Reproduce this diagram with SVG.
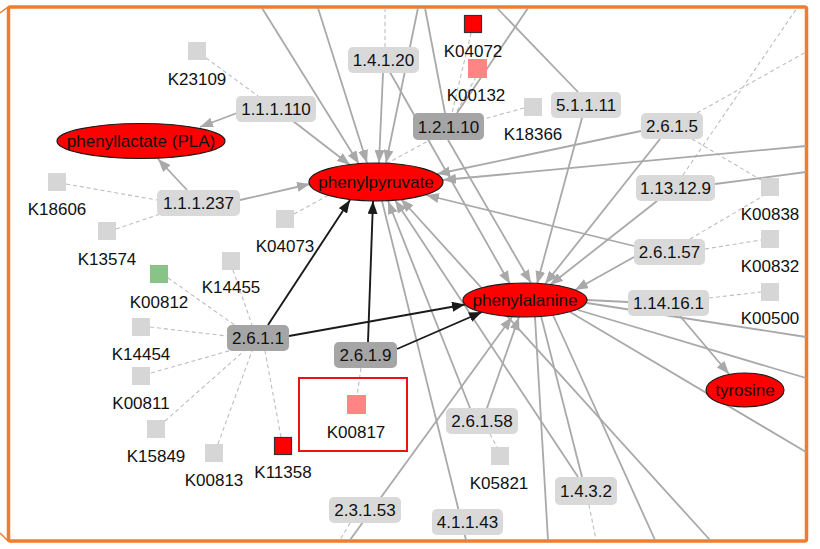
<svg xmlns="http://www.w3.org/2000/svg" width="820" height="549" viewBox="0 0 820 549">
<defs>
<style>
.e{stroke:#a9a9a9;stroke-width:1.8;fill:none}
.ea{stroke:#a9a9a9;stroke-width:1.8;fill:none;marker-end:url(#ag)}
.eb{stroke:#1a1a1a;stroke-width:1.9;fill:none;marker-end:url(#ab)}
.d{stroke:#bdbdbd;stroke-width:1.1;fill:none;stroke-dasharray:4 3}
.met{fill:#ff0000;stroke:#1a1a1a;stroke-width:1.2}
.enz{fill:#d9d9d9}
.enzd{fill:#a5a5a5}
.g{fill:#d6d6d6}
.t{font-family:"Liberation Sans",Arial,sans-serif;font-size:17px;fill:#111;text-anchor:middle}
</style>
<marker id="ag" markerUnits="userSpaceOnUse" markerWidth="13" markerHeight="10" refX="13" refY="5" orient="auto">
<path d="M0,0 L13,5 L0,10 z" fill="#a9a9a9"/>
</marker>
<marker id="ab" markerUnits="userSpaceOnUse" markerWidth="13" markerHeight="10" refX="13" refY="5" orient="auto">
<path d="M0,0 L13,5 L0,10 z" fill="#1a1a1a"/>
</marker>
</defs>
<rect x="0" y="0" width="820" height="549" fill="#ffffff"/>
<rect x="8.5" y="7" width="798" height="534" rx="2" fill="none" stroke="#ed7d31" stroke-width="3.5"/>
<path d="M0,13 L8,7 M0,533 L8,541" stroke="#ed7d31" stroke-width="1.5" fill="none"/>

<g id="edges">
<!-- dashed gene links -->
<path class="d" d="M206,58 L258,96"/>
<path class="d" d="M66,184 L157,200"/>
<path class="d" d="M116,229 L160,214"/>
<path class="d" d="M168,278 L236,326"/>
<path class="d" d="M233,270 L252,325"/>
<path class="d" d="M150,327 L227,336"/>
<path class="d" d="M151,373 L232,350"/>
<path class="d" d="M165,421 L244,351"/>
<path class="d" d="M218,444 L252,351"/>
<path class="d" d="M281,437 L265,351"/>
<path class="d" d="M294,214 L430,140"/>
<path class="d" d="M471,33 L452,113"/>
<path class="d" d="M476,77 L456,113"/>
<path class="d" d="M524,108 L484,119"/>
<path class="d" d="M385,47 L385,8"/>
<path class="d" d="M697,113 L806,52"/>
<path class="d" d="M683,175 L797,8"/>
<path class="d" d="M692,139 L761,180"/>
<path class="d" d="M690,239 L763,196"/>
<path class="d" d="M705,249 L761,240"/>
<path class="d" d="M709,298 L761,292"/>
<path class="d" d="M361,368 L357,396"/>
<path class="d" d="M490,434 L497,447"/>
<path class="d" d="M589,505 L596,540"/>
<path class="d" d="M350,523 L340,540"/>
<!-- plain gray edges -->
<path class="e" d="M425,8 L445,113"/>
<path class="e" d="M528,8 L457,113"/>
<path class="e" d="M497,8 L578,92"/>
<path class="e" d="M715,184 L806,172"/>
<path class="e" d="M535,317 L548,540"/>
<path class="e" d="M541,316 L582,477"/>
<path class="e" d="M553,315 L655,540"/>
<path class="e" d="M570,312 L806,452"/>
<path class="e" d="M578,310 L806,378"/>
<path class="e" d="M587,303 L806,337"/>
<path class="e" d="M587,300 L628,302"/>
<path class="e" d="M466,540 L382,201"/>
<!-- gray arrows -->
<path class="ea" d="M237,113 L200,127"/>
<path class="ea" d="M187,190 L158,159"/>
<path class="ea" d="M293,121 L350,165"/>
<path class="ea" d="M262,8 L359,164"/>
<path class="ea" d="M318,8 L367,163"/>
<path class="ea" d="M383,73 L379,163"/>
<path class="ea" d="M418,8 L386,163"/>
<path class="ea" d="M641,131 L437,174"/>
<path class="ea" d="M806,146 L443,180"/>
<path class="ea" d="M634,246 L426,195"/>
<path class="ea" d="M240,200 L310,184"/>
<path class="ea" d="M470,408 L388,201"/>
<path class="ea" d="M578,477 L395,200"/>
<path class="ea" d="M710,540 L401,199"/>
<path class="ea" d="M383,60 L510,284"/>
<path class="ea" d="M448,140 L531,283"/>
<path class="ea" d="M582,118 L537,284"/>
<path class="ea" d="M660,139 L545,284"/>
<path class="ea" d="M657,201 L550,285"/>
<path class="ea" d="M634,257 L575,290"/>
<path class="ea" d="M350,540 L512,317"/>
<path class="ea" d="M487,408 L519,317"/>
<path class="ea" d="M680,316 L729,374"/>
<!-- black arrows -->
<path class="eb" d="M268,325 L350,200"/>
<path class="eb" d="M289,336 L465,304.5"/>
<path class="eb" d="M368,342 L373,201"/>
<path class="eb" d="M397,349 L482,312"/>
</g>

<!-- metabolites -->
<g id="phenyllactate"><ellipse class="met" cx="141" cy="141" rx="84" ry="17.5"/><text class="t" x="141" y="147">phenyllactate (PLA)</text></g>
<g id="phenylpyruvate"><ellipse class="met" cx="376" cy="182" rx="67" ry="19"/><text class="t" x="376" y="188">phenylpyruvate</text></g>
<g id="phenylalanine"><ellipse class="met" cx="525" cy="300" rx="62" ry="17"/><text class="t" x="525" y="306">phenylalanine</text></g>
<g id="tyrosine"><ellipse class="met" cx="745" cy="390" rx="39" ry="17"/><text class="t" x="745" y="396">tyrosine</text></g>

<!-- enzymes -->
<g id="e1.1.1.110"><rect class="enz" x="236" y="96" width="80" height="26" rx="5"/><text class="t" x="276" y="115">1.1.1.110</text></g>
<g id="e1.4.1.20"><rect class="enz" x="348" y="47" width="71" height="26" rx="5"/><text class="t" x="383.5" y="66">1.4.1.20</text></g>
<g id="e1.2.1.10"><rect class="enzd" x="413" y="113" width="71" height="27" rx="5"/><text class="t" x="448.5" y="132.5">1.2.1.10</text></g>
<g id="e5.1.1.11"><rect class="enz" x="551" y="92" width="70" height="26" rx="5"/><text class="t" x="586" y="111">5.1.1.11</text></g>
<g id="e2.6.1.5"><rect class="enz" x="641" y="113" width="62" height="26" rx="5"/><text class="t" x="672" y="132">2.6.1.5</text></g>
<g id="e1.13.12.9"><rect class="enz" x="636" y="175" width="79" height="26" rx="5"/><text class="t" x="675.5" y="194">1.13.12.9</text></g>
<g id="e2.6.1.57"><rect class="enz" x="634" y="239" width="71" height="26" rx="5"/><text class="t" x="669.5" y="258">2.6.1.57</text></g>
<g id="e1.14.16.1"><rect class="enz" x="628" y="290" width="81" height="26" rx="5"/><text class="t" x="668.5" y="309">1.14.16.1</text></g>
<g id="e1.1.1.237"><rect class="enz" x="157" y="190" width="83" height="26" rx="5"/><text class="t" x="198.5" y="209">1.1.1.237</text></g>
<g id="e2.6.1.1"><rect class="enzd" x="227" y="325" width="62" height="26" rx="5"/><text class="t" x="258" y="344">2.6.1.1</text></g>
<g id="e2.6.1.9"><rect class="enzd" x="334" y="342" width="63" height="26" rx="5"/><text class="t" x="365.5" y="361">2.6.1.9</text></g>
<g id="e2.6.1.58"><rect class="enz" x="446" y="408" width="72" height="26" rx="5"/><text class="t" x="482" y="427">2.6.1.58</text></g>
<g id="e2.3.1.53"><rect class="enz" x="329" y="497" width="72" height="26" rx="5"/><text class="t" x="365" y="516">2.3.1.53</text></g>
<g id="e4.1.1.43"><rect class="enz" x="432" y="509" width="71" height="26" rx="5"/><text class="t" x="467.5" y="528">4.1.1.43</text></g>
<g id="e1.4.3.2"><rect class="enz" x="555" y="477" width="62" height="28" rx="5"/><text class="t" x="586" y="497">1.4.3.2</text></g>

<!-- genes -->
<g id="K23109"><rect class="g" x="188" y="42" width="18" height="18"/><text class="t" x="197" y="85">K23109</text></g>
<g id="K18606"><rect class="g" x="48" y="173" width="18" height="18"/><text class="t" x="57" y="215">K18606</text></g>
<g id="K13574"><rect class="g" x="98" y="222" width="18" height="18"/><text class="t" x="107" y="265">K13574</text></g>
<g id="K00812"><rect x="150" y="265" width="18" height="18" fill="#88c488"/><text class="t" x="159" y="308">K00812</text></g>
<g id="K14455"><rect class="g" x="222" y="252" width="18" height="18"/><text class="t" x="231" y="293">K14455</text></g>
<g id="K04073"><rect class="g" x="276" y="210" width="18" height="18"/><text class="t" x="285" y="252">K04073</text></g>
<g id="K14454"><rect class="g" x="132" y="318" width="18" height="18"/><text class="t" x="141" y="360">K14454</text></g>
<g id="K00811"><rect class="g" x="132" y="367" width="18" height="18"/><text class="t" x="141" y="409">K00811</text></g>
<g id="K15849"><rect class="g" x="147" y="420" width="18" height="18"/><text class="t" x="156" y="462">K15849</text></g>
<g id="K00813"><rect class="g" x="205" y="444" width="18" height="18"/><text class="t" x="214" y="486">K00813</text></g>
<g id="K11358"><rect x="274.5" y="437.5" width="17" height="17" fill="#ff0000" stroke="#333" stroke-width="1.2"/><text class="t" x="283" y="478">K11358</text></g>
<g id="K00817"><rect x="299" y="378" width="108" height="73" fill="none" stroke="#ee1111" stroke-width="2"/><rect x="347" y="395" width="19" height="19" fill="#ff8585"/><text class="t" x="356" y="438">K00817</text></g>
<g id="K05821"><rect class="g" x="491" y="447" width="18" height="18"/><text class="t" x="499" y="489">K05821</text></g>
<g id="K04072"><rect x="464.5" y="15.5" width="17" height="17" fill="#ff0000" stroke="#333" stroke-width="1.2"/><text class="t" x="473" y="57">K04072</text></g>
<g id="K00132"><rect x="468" y="59" width="19" height="19" fill="#ff8585"/><text class="t" x="476" y="101">K00132</text></g>
<g id="K18366"><rect class="g" x="524" y="98" width="18" height="18"/><text class="t" x="533" y="140">K18366</text></g>
<g id="K00838"><rect class="g" x="761" y="178" width="18" height="18"/><text class="t" x="770" y="220">K00838</text></g>
<g id="K00832"><rect class="g" x="761" y="230" width="18" height="18"/><text class="t" x="770" y="272">K00832</text></g>
<g id="K00500"><rect class="g" x="761" y="283" width="18" height="18"/><text class="t" x="770" y="324">K00500</text></g>
</svg>
